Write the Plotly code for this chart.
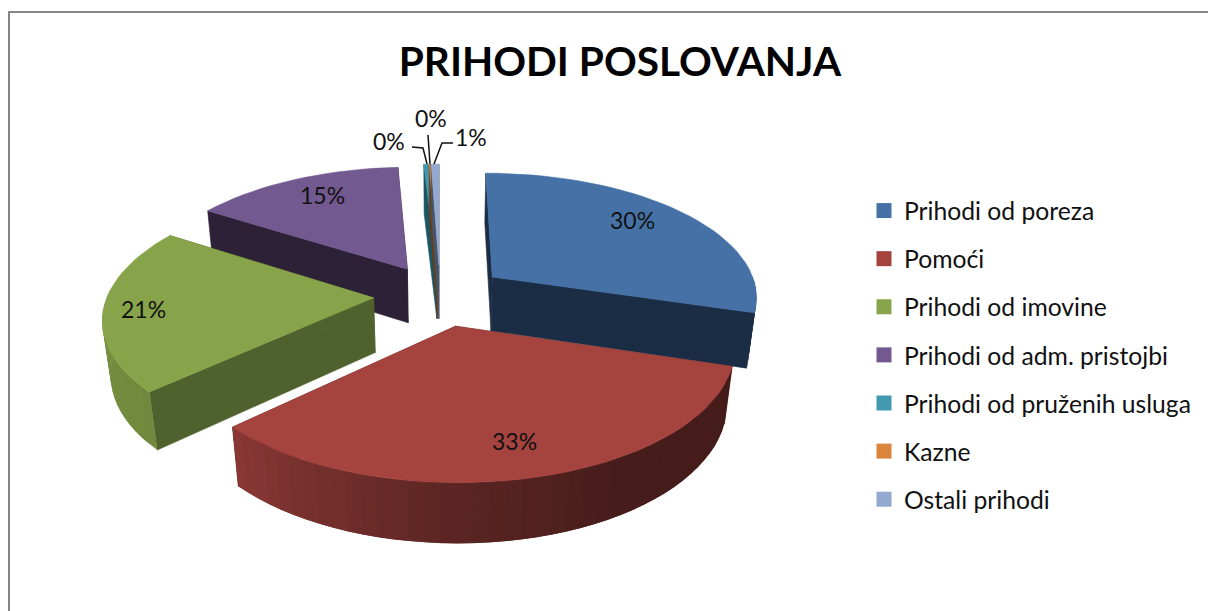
import numpy as np
import plotly.graph_objects as go

TITLE = "PRIHODI POSLOVANJA"
CATEGORIES = ["Prihodi od poreza", "Pomoći", "Prihodi od imovine", "Prihodi od adm. pristojbi",
              "Prihodi od pruženih usluga", "Kazne", "Ostali prihodi"]
VALUES = [29.7, 33.4, 21.0, 15.0, 0.33, 0.07, 0.55]
COLORS = ["#4571a6", "#a5433f", "#88a44a", "#72598f", "#4198af", "#db843d", "#93a9cf"]
WALLS = ["#1b2d45", "#4f1f1c", "#4f612d", "#2d2138", "#1d5563", "#6e3e14", "#47546a"]
LABEL_X = [632, 514, 143, 322, 389, 431, 471]
LABEL_Y = [220, 441, 309, 195, 141, 118, 137]

# view of the tilted, exploded pie
CX, CY, RX, RY, H, P, Q, PULL = 440, 295, 266, 123.7, 56, 0.145, 0.025, 0.25
FONT = "Lato"


def project(X, Y, Z=0.0):
    s = 1.0 / (1.0 + P * np.asarray(Y) + Q * Z)
    return CX + RX * np.asarray(X) * s, CY - RY * np.asarray(Y) * s + H * Z * s


def shade(hex_color, f):
    c = [int(hex_color[i:i + 2], 16) for i in (1, 3, 5)]
    return "#%02x%02x%02x" % tuple(int(round(v * f)) for v in c)


def poly(fig, xs, ys, color, width=0.6):
    fig.add_trace(go.Scatter(x=list(xs), y=list(ys), mode="lines", fill="toself", fillcolor=color,
                             line=dict(color=color, width=width), hoverinfo="skip", showlegend=False))


fig = go.Figure()

total = sum(VALUES)
ends = np.cumsum(VALUES) / total * 360.0
starts = np.concatenate([[0.0], ends[:-1]])

for i in [3, 4, 5, 6, 0, 2, 1]:
    a0, a1 = starts[i], ends[i]
    mid = np.radians((a0 + a1) / 2)
    ox, oy = PULL * np.sin(mid), PULL * np.cos(mid)
    th = np.radians(np.linspace(a0, a1, max(3, int((a1 - a0) / 3) + 2)))
    X, Y = ox + np.sin(th), oy + np.cos(th)

    # radial walls
    for e in (0, -1):
        xt, yt = project([ox, X[e]], [oy, Y[e]])
        xb, yb = project([ox, X[e]], [oy, Y[e]], 1.0)
        poly(fig, [xt[0], xt[1], xb[1], xb[0], xt[0]], [yt[0], yt[1], yb[1], yb[0], yt[0]], WALLS[i])

    # outer wall, shaded strip by strip (each strip runs under the next one to hide seams)
    for k in range(len(th) - 1):
        deg = np.degrees((th[k] + th[k + 1]) / 2)
        if not 88 < deg < 272:
            continue
        f = np.interp(deg, [108, 150, 180, 227, 272], [0.41, 0.43, 0.55, 0.83, 0.88])
        j = min(k + 3, len(th))
        xt, yt = project(X[k:j], Y[k:j])
        xb, yb = project(X[k:j], Y[k:j], 1.0)
        xs = np.r_[xt, xb[::-1], xt[0]]
        ys = np.r_[yt, yb[::-1], yt[0]]
        poly(fig, xs, ys, shade(COLORS[i], f), width=0)

    # top face
    xt, yt = project(np.r_[ox, X, ox], np.r_[oy, Y, oy])
    poly(fig, xt, yt, COLORS[i])

# legend entries
for name, color in zip(CATEGORIES, COLORS):
    fig.add_trace(go.Scatter(x=[None], y=[None], mode="markers", name=name, legendgroup=name,
                             marker=dict(symbol="square", size=15, color=color)))

# data labels
for v, lx, ly in zip(VALUES, LABEL_X, LABEL_Y):
    fig.add_annotation(x=lx, y=ly, text=f"{round(v)}%", showarrow=False,
                       font=dict(family=FONT, size=23, color="#111111"), xanchor="center", yanchor="middle")

leaders = ["M412,147 L423,148 L427,164", "M428,135 L430,164", "M453,143 L442,143 L434,164"]
shapes = [dict(type="path", path=p, line=dict(color="#111111", width=1.5), layer="above") for p in leaders]
shapes.append(dict(type="rect", x0=9, y0=12, x1=1400, y1=800, line=dict(color="#868686", width=2), layer="below"))

fig.update_layout(
    width=1208, height=611, margin=dict(l=0, r=0, t=0, b=0),
    paper_bgcolor="white", plot_bgcolor="white", shapes=shapes,
    title=dict(text=f"<b>{TITLE}</b>", x=620 / 1208, xanchor="center", y=1 - 62 / 611, yanchor="middle",
               font=dict(family=FONT, size=40.6, color="#000000")),
    xaxis=dict(range=[0, 1208], visible=False, fixedrange=True),
    yaxis=dict(range=[611, 0], visible=False, fixedrange=True),
    legend=dict(x=864 / 1208, y=1 - 188 / 611, xanchor="left", yanchor="top", tracegroupgap=13,
                traceorder="grouped", bgcolor="rgba(0,0,0,0)",
                font=dict(family=FONT, size=24.7, color="#111111")),
)

fig.write_html("out.html", config={"displayModeBar": False},
               post_script="document.body.style.margin='0';document.documentElement.style.overflow='hidden';")
